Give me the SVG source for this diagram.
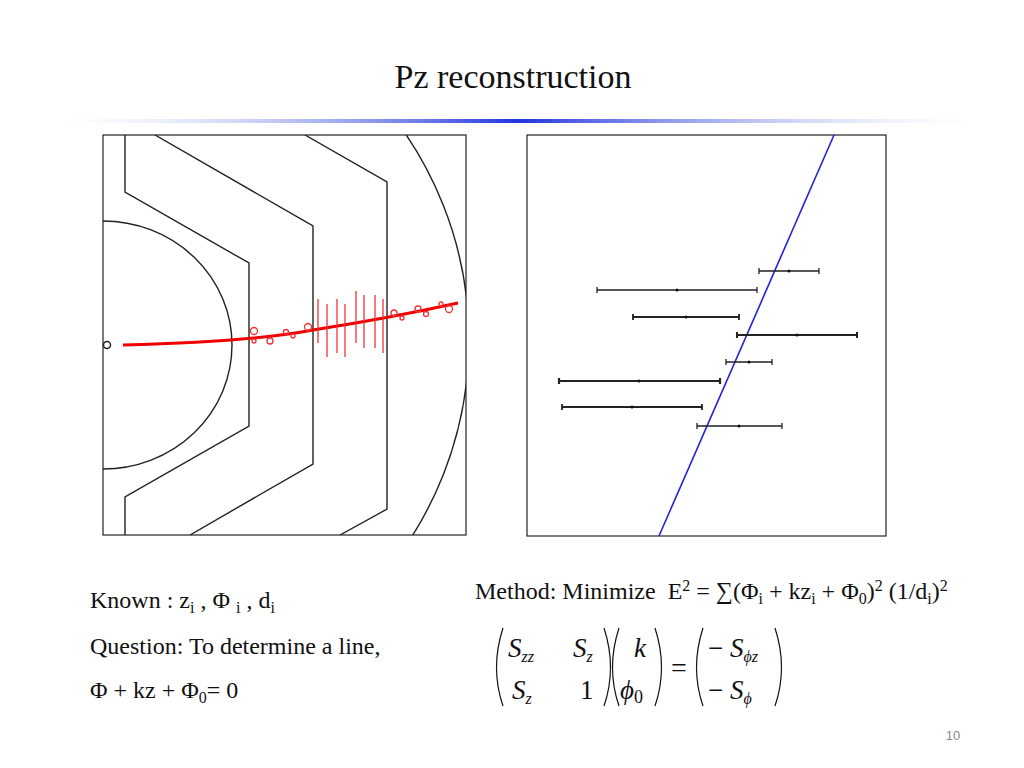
<svg xmlns="http://www.w3.org/2000/svg" width="1024" height="768" viewBox="0 0 1024 768">
<defs>
<linearGradient id="g" x1="0" x2="1" y1="0" y2="0">
<stop offset="0" stop-color="#c8d8f0" stop-opacity="0"/>
<stop offset="0.5" stop-color="#2233dd"/>
<stop offset="1" stop-color="#c8d8f0" stop-opacity="0"/>
</linearGradient>
<clipPath id="cl"><rect x="103" y="135" width="363" height="400"/></clipPath>
</defs>
<style>
.t{font-family:"Liberation Serif",serif;fill:#111}
.k{fill:none;stroke:#222;stroke-width:1.4}
.r{fill:none;stroke:#e33;stroke-width:1.3}
.e{stroke:#222;stroke-width:1.3}
.p{fill:none;stroke:#111;stroke-width:1.2}
.m{font-family:"Liberation Serif",serif;font-style:italic;font-size:27px;fill:#111}
</style>
<rect width="1024" height="768" fill="#fff"/>
<text class="t" x="513" y="88" font-size="34" text-anchor="middle">Pz reconstruction</text>
<rect x="60" y="119" width="915" height="4" fill="url(#g)"/>
<g id="left">
<rect x="103" y="135" width="363" height="400" fill="none" stroke="#222" stroke-width="1.2"/>
<g clip-path="url(#cl)">
<ellipse class="k" cx="103" cy="345" rx="129" ry="124"/>
<polyline class="k" points="125,135 125,192 249,263 249,426 125,497 125,535"/>
<polyline class="k" points="155,135 313,226 313,464 190,535"/>
<polyline class="k" points="305,135 387,182 387,509 340,535"/>
<circle class="k" cx="103" cy="340" r="366"/>
</g>
<circle cx="107" cy="345" r="3.5" fill="none" stroke="#222" stroke-width="1.5"/>
<path d="M123,345 Q250,342 313,330 Q390,318 458,303" fill="none" stroke="#e00" stroke-width="3"/>
<g class="r">
<line x1="318" y1="299" x2="318" y2="343"/><line x1="327" y1="304" x2="327" y2="357"/>
<line x1="337" y1="299" x2="337" y2="353"/><line x1="345" y1="304" x2="345" y2="357"/>
<line x1="356" y1="291" x2="356" y2="343"/><line x1="364" y1="295" x2="364" y2="348"/>
<line x1="375" y1="295" x2="375" y2="348"/><line x1="383" y1="299" x2="383" y2="353"/>
<circle cx="254" cy="331" r="3.5"/><circle cx="254" cy="341" r="2"/><circle cx="270" cy="341" r="3"/>
<circle cx="286" cy="332" r="2.5"/><circle cx="293" cy="336" r="2"/><circle cx="308" cy="327" r="3.5"/>
<circle cx="394" cy="313" r="3"/><circle cx="402" cy="318" r="2"/><circle cx="418" cy="309" r="3"/>
<circle cx="426" cy="314" r="2.5"/><circle cx="441" cy="304" r="2"/><circle cx="449" cy="309" r="3.5"/>
</g>
</g>
<g id="right">
<rect x="527" y="135" width="359" height="401" fill="none" stroke="#222" stroke-width="1.2"/>
<line x1="834" y1="135" x2="659" y2="536" stroke="#2222dd" stroke-width="1.6"/>
<g class="e">
<path d="M759,271H819M759,268V274M819,268V274"/>
<path d="M597,290H757M597,287V293M757,287V293"/>
<path d="M633,317H739M633,314V320M739,314V320" stroke-width="1.8"/>
<path d="M737,335H857M737,332V338M857,332V338" stroke-width="2"/>
<path d="M726,362H772M726,359V365M772,359V365"/>
<path d="M559,381H720M559,378V384M720,378V384" stroke-width="2.2"/>
<path d="M562,407H702M562,404V410M702,404V410" stroke-width="1.8"/>
<path d="M697,426H782M697,423V429M782,423V429"/>
</g>
<g fill="#111">
<circle cx="789" cy="271" r="1.5"/><circle cx="677" cy="290" r="1.5"/><circle cx="686" cy="317" r="1.5"/>
<circle cx="797" cy="335" r="1.5"/><circle cx="749" cy="362" r="1.5"/><circle cx="639" cy="381" r="1.5"/>
<circle cx="632" cy="407" r="1.5"/><circle cx="739" cy="426" r="1.5"/>
</g>
</g>
<g id="text" class="t" font-size="24">
<text x="90" y="608">Known : z<tspan font-size="16" dy="5">i</tspan><tspan dy="-5"> , Φ </tspan><tspan font-size="16" dy="5">i</tspan><tspan dy="-5"> , d</tspan><tspan font-size="16" dy="5">i</tspan></text>
<text x="90" y="654">Question: To determine a line,</text>
<text x="90" y="698">Φ + kz + Φ<tspan font-size="16" dy="5">0</tspan><tspan dy="-5">= 0</tspan></text>
<text x="475" y="599" xml:space="preserve">Method: Minimize  E<tspan font-size="16" dy="-8">2</tspan><tspan dy="8"> = ∑(Φ</tspan><tspan font-size="16" dy="5">i</tspan><tspan dy="-5"> + kz</tspan><tspan font-size="16" dy="5">i</tspan><tspan dy="-5"> + Φ</tspan><tspan font-size="16" dy="5">0</tspan><tspan dy="-5">)</tspan><tspan font-size="16" dy="-8">2</tspan><tspan dy="8"> (1/d</tspan><tspan font-size="16" dy="5">i</tspan><tspan dy="-5">)</tspan><tspan font-size="16" dy="-8">2</tspan></text>
</g>
<g id="matrix">
<path class="p" d="M503,628 Q490,668 503,706"/><path class="p" d="M604,628 Q617,668 604,706"/>
<path class="p" d="M619,628 Q606,668 619,706"/><path class="p" d="M655,628 Q668,668 655,706"/>
<path class="p" d="M703,628 Q690,668 703,706"/><path class="p" d="M775,628 Q788,668 775,706"/>
<text class="m" x="508" y="657">S<tspan font-size="16" dy="5">zz</tspan></text>
<text class="m" x="573" y="657">S<tspan font-size="16" dy="5">z</tspan></text>
<text class="m" x="512" y="699">S<tspan font-size="16" dy="5">z</tspan></text>
<text class="t" font-size="27" x="580" y="699">1</text>
<text class="m" x="634" y="657">k</text>
<text class="m" x="620" y="699">ϕ<tspan font-style="normal" font-size="18" dy="4">0</tspan></text>
<text class="t" font-size="28" x="671" y="677">=</text>
<text class="m" x="708" y="657"><tspan font-style="normal">−</tspan> S<tspan font-size="16" dy="5">ϕz</tspan></text>
<text class="m" x="708" y="699"><tspan font-style="normal">−</tspan> S<tspan font-size="16" dy="5">ϕ</tspan></text>
</g>
<text x="953" y="740" font-family="Liberation Sans,sans-serif" font-size="13" fill="#888" text-anchor="middle">10</text>
</svg>
